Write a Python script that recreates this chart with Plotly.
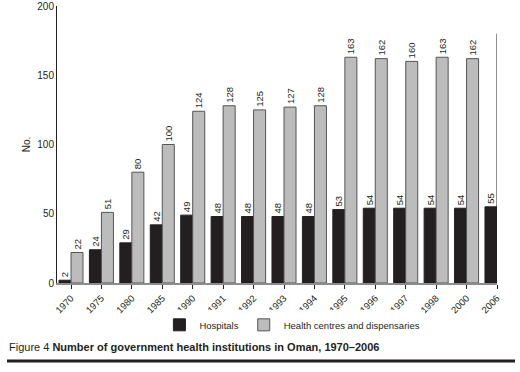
import plotly.graph_objects as go

years = ["1970", "1975", "1980", "1985", "1990", "1991", "1992", "1993", "1994",
         "1995", "1996", "1997", "1998", "2000", "2006"]
hospitals = [2, 24, 29, 42, 49, 48, 48, 48, 48, 53, 54, 54, 54, 54, 55]
health_centres = [22, 51, 80, 100, 124, 128, 125, 127, 128, 163, 162, 160, 163, 162, None]
y_ticks = [0, 50, 100, 150, 200]

FONT = "Liberation Sans, Arial, sans-serif"

fig = go.Figure()
fig.add_trace(go.Bar(
    x=years, y=hospitals, name="Hospitals",
    marker=dict(color="#231f20", line=dict(color="#231f20", width=1)),
    text=[str(v) for v in hospitals], textposition="outside", textangle=-90,
    textfont=dict(size=9.5, color="#231f20", family=FONT), cliponaxis=False,
))
fig.add_trace(go.Bar(
    x=years, y=health_centres, name="Health centres and dispensaries",
    marker=dict(color="#bcbcbc", line=dict(color="#555555", width=1)),
    text=[("" if v is None else str(v)) for v in health_centres],
    textposition="outside", textangle=-90,
    textfont=dict(size=9.5, color="#231f20", family=FONT), cliponaxis=False,
))

fig.update_layout(
    width=520, height=372,
    margin=dict(l=57, r=23, t=6, b=89, autoexpand=False),
    paper_bgcolor="white", plot_bgcolor="white",
    font=dict(family=FONT, size=9.5, color="#231f20"),
    barmode="group", bargap=0.21, bargroupgap=0,
    uniformtext=dict(minsize=9.5, mode="show"),
    showlegend=True,
    legend=dict(orientation="h", x=0.535, xanchor="center", y=-0.151, yanchor="middle",
                font=dict(size=9.5, family=FONT), traceorder="normal"),
    xaxis=dict(
        type="category", range=[-0.46, 14], showgrid=False, automargin=False,
        showline=True, linecolor="#8c8c8c", linewidth=2,
        ticks="outside", ticklen=4, tickcolor="#231f20", tickwidth=1,
        tickangle=-45, tickfont=dict(size=9.5, family=FONT),
    ),
    yaxis=dict(
        range=[0, 200], tickvals=y_ticks, showgrid=False, zeroline=False, automargin=False,
        showline=True, linecolor="#231f20", linewidth=1, ticks="",
        tickfont=dict(size=10, family=FONT),
        title=dict(text="No.", font=dict(size=10, family=FONT), standoff=4),
    ),
)

# right-hand border line
fig.add_shape(type="line", xref="x", yref="y", x0=14, x1=14, y0=0, y1=180,
              line=dict(color="#231f20", width=1))

# caption
fig.add_annotation(
    xref="paper", yref="paper", x=(7 - 57) / 440, y=(283 - 347) / 277,
    xanchor="left", yanchor="middle", showarrow=False,
    text="Figure 4 <b>Number of government health institutions in Oman, 1970–2006</b>",
    font=dict(size=11, family=FONT, color="#231f20"),
)
fig.add_shape(type="line", xref="paper", yref="paper",
              x0=(7 - 57) / 440, x1=(515 - 57) / 440,
              y0=(283 - 361) / 277, y1=(283 - 361) / 277,
              line=dict(color="#231f20", width=3))

fig.write_html("out.html", config={"displayModeBar": False},
               post_script="document.body.style.margin='0';document.body.style.overflow='hidden';")
